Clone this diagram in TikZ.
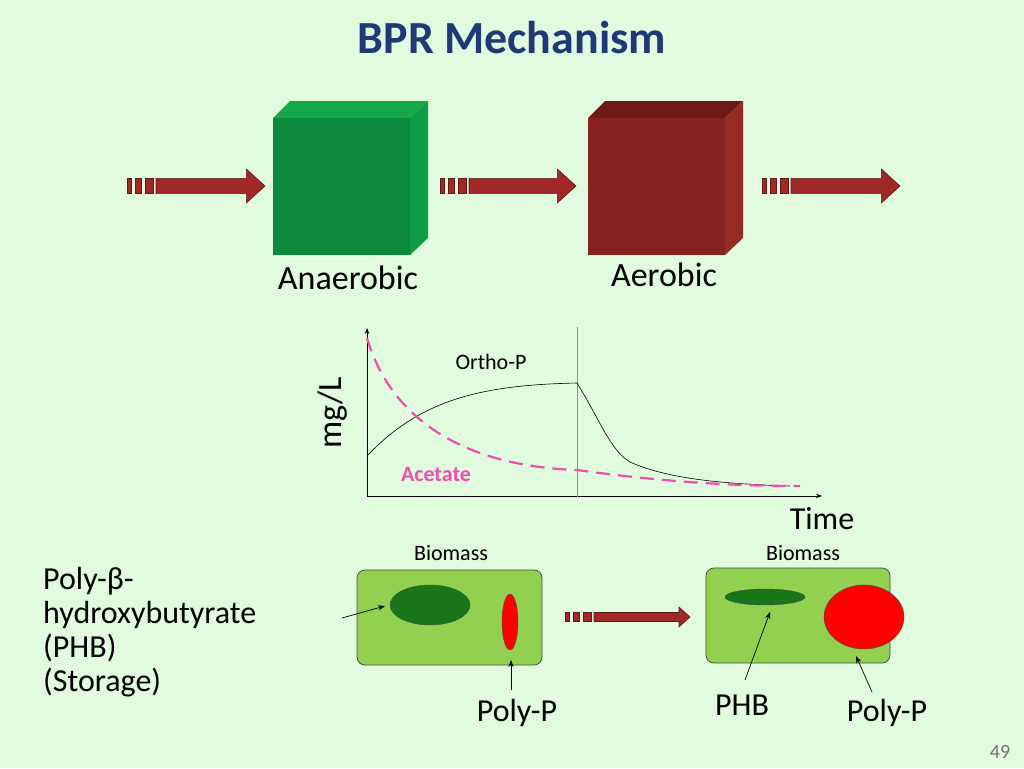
\documentclass[tikz,border=0pt]{standalone}
\usepackage{fontspec}
\setmainfont{Carlito}
\usetikzlibrary{arrows.meta}
\definecolor{bgcol}{RGB}{224,251,221}
\definecolor{titlecol}{RGB}{31,56,120}
\definecolor{arrcol}{RGB}{160,40,38}
\definecolor{cellcol}{RGB}{146,208,80}
\definecolor{gtop}{RGB}{20,168,74}
\definecolor{gside}{RGB}{16,156,70}
\definecolor{gfront}{RGB}{11,138,62}
\definecolor{rtop}{RGB}{110,27,24}
\definecolor{rside}{RGB}{150,42,37}
\definecolor{rfront}{RGB}{134,34,31}
\tikzset{
  blockarr/.style={fill=arrcol,draw=arrcol!60!black,line width=0.6pt},
  cellbox/.style={fill=cellcol,draw=black!70,line width=0.8pt,rounded corners=8pt},
  ptr/.style={-{Stealth[length=7pt]},line width=0.7pt},
  lbl/.style={font=\fontsize{26}{28}\selectfont,inner sep=0pt}
}
% striped block arrow: #1 = left x, #2 = centre y, #3 = total length, #4 = half height
\newcommand{\stripearrow}[4]{%
  \fill[blockarr] (#1,#2-0.45*#4) rectangle ++(4,0.9*#4);
  \fill[blockarr] (#1+8,#2-0.45*#4) rectangle ++(6,0.9*#4);
  \fill[blockarr] (#1+18,#2-0.45*#4) rectangle ++(8,0.9*#4);
  \draw[blockarr] (#1+29,#2-0.45*#4) -- (#1+#3-1.1*#4,#2-0.45*#4) -- (#1+#3-1.1*#4,#2-#4)
     -- (#1+#3,#2) -- (#1+#3-1.1*#4,#2+#4) -- (#1+#3-1.1*#4,#2+0.45*#4) -- (#1+29,#2+0.45*#4) -- cycle;}
\begin{document}
\begin{tikzpicture}[x=1pt,y=-1pt]
\fill[bgcol] (0,0) rectangle (1024,768);
\useasboundingbox (0,0) rectangle (1024,768);

%Title
\node[font=\bfseries\fontsize{46}{50}\selectfont,text=titlecol] (title) at (512,38) {BPR Mechanism};

%Cubes
\fill[gtop] (273,118) -- (290,101) -- (428,101) -- (410,118) -- cycle;
\fill[gside] (410,118) -- (428,101) -- (428,238) -- (410,255) -- cycle;
\fill[gfront] (273,118) rectangle (410,255);
\fill[rtop] (588,118) -- (605,101) -- (743,101) -- (725,118) -- cycle;
\fill[rside] (725,118) -- (743,101) -- (743,238) -- (725,255) -- cycle;
\fill[rfront] (588,118) rectangle (725,255);
\node[lbl,font=\fontsize{34}{36}\selectfont] (anaer) at (348,278) {Anaerobic};
\node[lbl,font=\fontsize{34}{36}\selectfont] (aer) at (664,275) {Aerobic};

%Flow arrows
\stripearrow{127}{186}{138}{17}
\stripearrow{440}{186}{136}{17}
\stripearrow{762}{186}{138}{17}

%Graph
\draw[line width=0.8pt,-{Stealth[length=6pt]}] (367,496) -- (367,328);
\draw[line width=0.8pt,-{Stealth[length=6pt]}] (367,496) -- (822,496);
\draw[orange!90!red,line width=0.8pt] (577,327) -- (577,497);
\draw[line width=0.6pt] (367,456) .. controls (420,400) and (480,385) .. (577,383)
  .. controls (600,420) and (610,450) .. (630,462) .. controls (670,480) and (730,484) .. (790,486);
\draw[magenta!70,line width=2.2pt,dash pattern=on 14pt off 8pt] (367,338) .. controls (385,400) and (440,465) .. (577,470)
  .. controls (650,480) and (720,486) .. (800,486);
\node[rotate=90,lbl,font=\fontsize{34}{36}\selectfont] (mgl) at (333,413) {mg/L};
\node[lbl,font=\fontsize{32}{34}\selectfont] (time) at (822,519) {Time};
\node[lbl,font=\fontsize{22}{24}\selectfont] (ortho) at (491,362) {Ortho-P};
\node[lbl,font=\bfseries\fontsize{22}{24}\selectfont,text=magenta!70] (acet) at (436,474) {Acetate};

%Cells
\draw[cellbox] (357,570) rectangle (542,665);
\draw[cellbox] (706,568) rectangle (890,663);
\draw[fill=green!40!black!90,draw=black!70] (430,605) ellipse (40 and 20);
\draw[fill=red,draw=black!70] (510,622) ellipse (8 and 28);
\draw[fill=green!40!black!90,draw=black!70] (765,597) ellipse (40 and 8);
\draw[fill=red,draw=black!70] (864,617) ellipse (40 and 32);
\coordinate (phbL) at (385,606);
\coordinate (ppL) at (511,660);
\coordinate (phbR) at (770,612);
\coordinate (ppR) at (856,656);
\node[lbl,font=\fontsize{22}{24}\selectfont] (bio1) at (451,553) {Biomass};
\node[lbl,font=\fontsize{22}{24}\selectfont] (bio2) at (803,553) {Biomass};
\stripearrow{565}{617}{125}{10}

%Labels below
\node[lbl,font=\fontsize{32}{34}\selectfont,align=left,anchor=north west] (phbtxt) at (43,567)
  {Poly-β-\\hydroxybutyrate\\(PHB)\\(Storage)};
\node[lbl,font=\fontsize{32}{34}\selectfont] (pp1) at (517,713) {Poly-P};
\node[lbl,font=\fontsize{32}{34}\selectfont] (phb2) at (742,705) {PHB};
\node[lbl,font=\fontsize{32}{34}\selectfont] (pp2) at (887,713) {Poly-P};
\draw[ptr] (342,618) -- (phbL);
\draw[ptr] (511,690) -- (ppL);
\draw[ptr] (745,680) -- (phbR);
\draw[ptr] (872,692) -- (ppR);

\node[lbl,font=\fontsize{20}{22}\selectfont,text=black!55] (pnum) at (1000,752) {49};
\end{tikzpicture}
\end{document}
